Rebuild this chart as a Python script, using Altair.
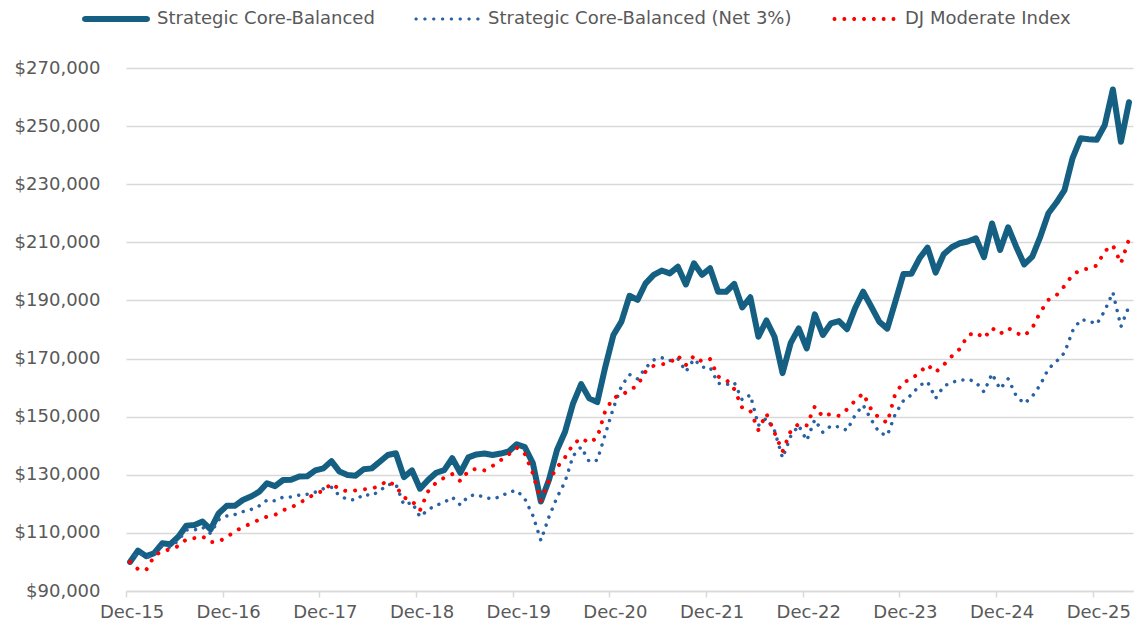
import math
import altair as alt
import pandas as pd

# ---------------- data (values in $ thousands, monthly Dec-15 .. Apr-26) ----------------
series_names = [
    "Strategic Core-Balanced",
    "Strategic Core-Balanced (Net 3%)",
    "DJ Moderate Index",
]
series_colors = ["#156082", "#2862A2", "#FF0000"]

tick_values = [0, 12, 24, 36, 48, 60, 72, 84, 96, 108, 120]
tick_labels = ["Dec-15", "Dec-16", "Dec-17", "Dec-18", "Dec-19", "Dec-20",
               "Dec-21", "Dec-22", "Dec-23", "Dec-24", "Dec-25"]
y_ticks = [90000, 110000, 130000, 150000, 170000, 190000, 210000, 230000, 250000, 270000]

gross = [100.0, 103.9, 102.0, 103.0, 106.4, 106.1, 108.7, 112.5, 112.7, 113.9,
         111.2, 116.7, 119.3, 119.3, 121.3, 122.5, 124.1, 127.1, 126.1, 128.2,
         128.3, 129.4, 129.5, 131.5, 132.2, 134.7, 131.1, 129.9, 129.7, 131.9,
         132.2, 134.5, 136.8, 137.4, 129.2, 131.5, 125.2, 128.2, 130.7, 131.6,
         135.7, 130.7, 136.0, 137.0, 137.3, 136.8, 137.3, 138.0, 140.5, 139.5,
         134.0, 120.8, 128.2, 138.5, 144.8, 154.6, 161.2, 156.3, 155.0, 167.2,
         178.1, 182.7, 191.6, 190.2, 195.9, 198.8, 200.3, 199.3, 201.6, 195.5,
         202.8, 198.8, 201.1, 193.0, 193.0, 195.7, 187.6, 191.1, 177.5, 183.1,
         177.5, 165.0, 175.3, 180.4, 173.5, 185.2, 178.1, 182.1, 182.9, 180.1,
         187.3, 193.0, 187.9, 182.7, 180.3, 189.6, 199.1, 199.2, 204.5, 208.2,
         199.6, 205.9, 208.3, 209.7, 210.3, 211.4, 204.9, 216.5, 207.4, 215.2,
         208.5, 202.4, 205.1, 212.0, 220.0, 223.7, 228.0, 239.0, 245.8, 245.5,
         245.3, 250.4, 262.6, 244.6, 258.2]

net = [100.0, 103.5, 101.5, 102.3, 105.6, 105.0, 107.5, 111.0, 111.0, 112.0,
       109.8, 114.5, 115.8, 116.3, 117.3, 118.0, 119.2, 121.3, 121.0, 122.3,
       122.4, 123.0, 123.3, 124.0, 125.2, 125.7, 122.8, 121.5, 121.3, 123.3,
       122.8, 124.5, 126.6, 126.8, 119.6, 120.5, 115.5, 118.0, 119.5, 120.5,
       122.3, 119.6, 122.6, 123.2, 122.2, 121.7, 122.5, 124.0, 124.6, 121.8,
       116.0, 107.4, 115.5, 122.2, 127.6, 136.5, 139.6, 134.5, 135.0, 144.0,
       153.0, 160.5, 164.5, 163.0, 166.8, 169.5, 170.3, 169.3, 170.0, 165.5,
       169.8, 167.0, 167.0, 161.5, 161.0, 161.8, 155.7, 157.5, 147.0, 149.5,
       145.2, 135.8, 143.2, 147.0, 141.8, 149.0, 144.6, 146.8, 146.5, 145.3,
       150.5, 154.0, 149.0, 144.5, 143.5, 151.0, 155.5, 157.5, 160.8, 162.0,
       156.3, 160.5, 161.8, 162.5, 162.9, 161.9, 158.5, 164.8, 159.5, 163.0,
       157.2, 154.5, 157.0, 161.0, 166.5, 169.0, 172.0, 179.5, 183.4, 183.0,
       181.8, 186.5, 192.8, 181.0, 188.0]

dj = [100.0, 97.5, 97.2, 102.0, 103.8, 104.3, 105.5, 107.8, 108.2, 108.8,
      106.8, 107.0, 108.5, 110.5, 112.0, 113.2, 114.5, 115.6, 116.2, 117.8,
      118.7, 120.3, 121.8, 123.5, 124.5, 127.0, 125.0, 124.3, 124.6, 125.0,
      125.2, 126.3, 128.0, 126.0, 122.2, 121.0, 117.8, 124.3, 127.3, 129.0,
      130.2, 127.8, 131.3, 132.1, 131.5, 133.0, 135.0, 137.0, 139.3, 137.2,
      130.5, 121.0, 127.9, 132.5, 136.0, 140.5, 142.6, 141.0, 142.8, 152.0,
      156.5, 157.5, 159.0, 160.8, 165.5, 167.5, 168.0, 168.5, 171.0, 167.8,
      170.9, 169.0, 169.8, 163.8, 162.8, 159.5, 153.0, 152.0, 145.4, 151.0,
      144.5, 138.0, 145.0, 147.5, 147.0, 153.5, 150.0, 151.0, 150.3, 152.5,
      155.5, 158.0, 152.5, 149.5, 147.9, 158.0, 161.8, 163.0, 165.2, 167.8,
      165.3, 167.8, 170.8, 173.3, 178.0, 179.0, 177.0, 180.5, 178.5, 180.5,
      178.8, 177.8, 180.5, 186.0, 190.2, 191.8, 195.0, 198.8, 200.5, 201.0,
      202.0, 207.0, 209.0, 202.8, 211.0]

rows = []
for name, vals in zip(series_names, [gross, net, dj]):
    for i, v in enumerate(vals):
        rows.append({"m": i, "series": name, "value": v * 1000})
df = pd.DataFrame(rows)

# ---------------- legend symbols (custom paths; unit = 10 px, symbol centre offset +24 px) ----------------
U = 10.0          # px per path unit (symbolSize 400 -> sqrt/2 = 10)
SHIFT = 24.0      # symbol drawn to the right of its nominal slot

def poly(pts):
    return "M" + " L".join(f"{(x + SHIFT) / U:.4f},{y / U:.4f}" for x, y in pts) + " Z"

def dot(cx, r, n=10):
    return poly([(cx + r * math.cos(2 * math.pi * k / n), r * math.sin(2 * math.pi * k / n)) for k in range(n)])

def bar_path(L=31.0, h=3.0):
    pts = [(-L, -h), (L, -h)]
    for k in range(1, 6):
        a = -math.pi / 2 + math.pi * k / 6
        pts.append((L + h * math.cos(a), h * math.sin(a)))
    pts += [(L, h), (-L, h)]
    for k in range(1, 6):
        a = math.pi / 2 + math.pi * k / 6
        pts.append((-L + h * math.cos(a), h * math.sin(a)))
    return poly(pts)

def dots_path(n, half, r):
    step = 2 * half / (n - 1)
    return " ".join(dot(-half + k * step, r) for k in range(n))

legend_shapes = [bar_path(), dots_path(8, 30.9, 1.7), dots_path(7, 29.5, 2.0)]

# ---------------- chart ----------------
label_expr = "[" + ",".join(f"'{t}'" for t in tick_labels) + "][round(datum.value / 12)]"
FONT = "DejaVu Sans"
GRAY = "#595959"

x_enc = alt.X(
    "m:Q",
    title=None,
    scale=alt.Scale(domain=[-0.5, 124.5], nice=False, zero=False),
    axis=alt.Axis(values=tick_values, labelExpr=label_expr, labelFont=FONT, labelFontSize=18,
                  labelColor=GRAY, grid=False, domain=True, domainColor="#d9d9d9", domainWidth=1.5,
                  ticks=True, tickColor="#d9d9d9", tickWidth=1.5, tickSize=6, tickOffset=-4,
                  labelOffset=5.5, labelPadding=20, labelBaseline="alphabetic",
                  labelFlush=False, labelOverlap=False),
)
y_enc = alt.Y(
    "value:Q",
    title=None,
    scale=alt.Scale(domain=[90000, 270000], nice=False, zero=False),
    axis=alt.Axis(values=y_ticks, format="$,.0f", labelFont=FONT, labelFontSize=18,
                  labelColor=GRAY, grid=True, gridColor="#d9d9d9", gridWidth=1.5, domain=False,
                  ticks=False, tickSize=0, labelPadding=26, labelFlush=False, labelOverlap=False),
)

base = alt.Chart(df).encode(x=x_enc, y=y_enc)

solid = base.transform_filter(alt.datum.series == series_names[0]).mark_line(
    color=series_colors[0], strokeWidth=6, strokeCap="round", strokeJoin="round")
net_line = base.transform_filter(alt.datum.series == series_names[1]).mark_line(
    color=series_colors[1], strokeWidth=3.5, strokeDash=[0.01, 8.5], strokeCap="round")
dj_line = base.transform_filter(alt.datum.series == series_names[2]).mark_line(
    color=series_colors[2], strokeWidth=4, strokeDash=[0.01, 10], strokeCap="round")

leg = alt.Legend(title=None, orient="none", legendX=-44, legendY=-59, direction="horizontal",
                 columns=3, columnPadding=38, labelOffset=55, labelFont=FONT, labelFontSize=18,
                 labelColor=GRAY, labelLimit=500, symbolSize=400, symbolStrokeWidth=0,
                 padding=0, rowPadding=0)

legend_layer = base.transform_filter("datum.m < 0").mark_point(
    filled=True, opacity=1, strokeWidth=0).encode(
    color=alt.Color("series:N", scale=alt.Scale(domain=series_names, range=series_colors), legend=leg),
    shape=alt.Shape("series:N", scale=alt.Scale(domain=series_names, range=legend_shapes), legend=leg),
)

chart = alt.layer(solid, net_line, dj_line, legend_layer).properties(
    width=1007, height=523,
    padding={"left": 118, "top": 60, "right": 3, "bottom": 33},
    autosize=alt.AutoSizeParams(type="none"),
    background="white",
).configure_view(strokeWidth=0)

chart.save("out.html", embed_options={"renderer": "svg", "actions": False})
